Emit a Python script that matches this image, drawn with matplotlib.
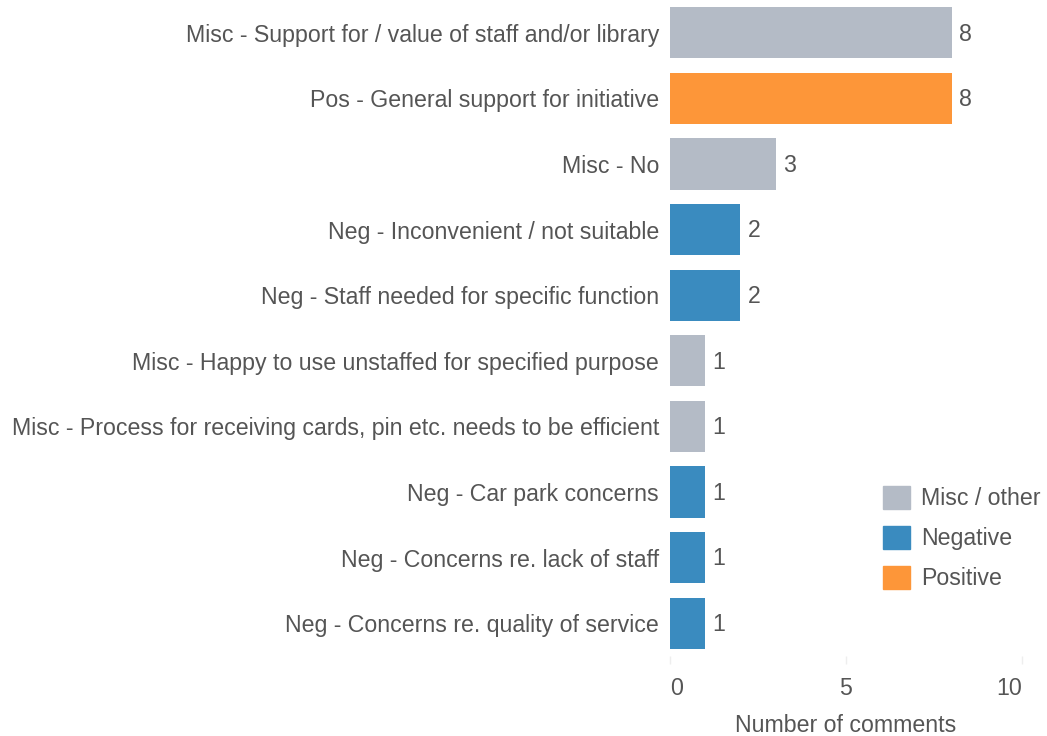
import matplotlib.pyplot as plt
import matplotlib.patches as mpatches

plt.rcParams['font.family'] = ['Liberation Sans', 'DejaVu Sans']

categories = [
    "Misc - Support for / value of staff and/or library",
    "Pos - General support for initiative",
    "Misc - No",
    "Neg - Inconvenient / not suitable",
    "Neg - Staff needed for specific function",
    "Misc - Happy to use unstaffed for specified purpose",
    "Misc - Process for receiving cards, pin etc. needs to be efficient",
    "Neg - Car park concerns",
    "Neg - Concerns re. lack of staff",
    "Neg - Concerns re. quality of service",
]
counts = [8, 8, 3, 2, 2, 1, 1, 1, 1, 1]
groups = ["Misc", "Pos", "Misc", "Neg", "Neg", "Misc", "Misc", "Neg", "Neg", "Neg"]

group_colors = {"Misc": "#b4bbc6", "Neg": "#3a8bbf", "Pos": "#fd9639"}
legend_labels = [("Misc", "Misc / other"), ("Neg", "Negative"), ("Pos", "Positive")]
x_ticks = [0, 5, 10]

TEXT = '#555555'
FS = 16.7

fig = plt.figure(figsize=(10.47, 7.36), dpi=100)
ax = fig.add_axes([670 / 1047, 1 - 656 / 736, 352 / 1047, 656 / 736])

y = list(range(len(categories)))
ax.barh(y, counts, height=0.78, color=[group_colors[g] for g in groups])

for yi, v in zip(y, counts):
    ax.text(v + 0.2, yi + 0.02, str(v), va='center', ha='left', fontsize=FS, color=TEXT)

ax.set_xlim(0, 10)
ax.set_ylim(len(categories) - 0.5, -0.5)
ax.set_yticks(y)
ax.set_yticklabels(categories, fontsize=FS, color=TEXT)
ax.tick_params(axis='y', length=0, pad=8)

ax.set_xticks(x_ticks)
ax.set_xticklabels([str(t) for t in x_ticks], fontsize=FS, color=TEXT)
for lbl, ha in zip(ax.get_xticklabels(), ['left', 'center', 'right']):
    lbl.set_ha(ha)
ax.tick_params(axis='x', length=6, width=1, color='#eeeeee', pad=9)
ax.set_xlabel("Number of comments", fontsize=FS, color=TEXT, labelpad=10)

for s in ax.spines.values():
    s.set_visible(False)

handles = [mpatches.Patch(color=group_colors[k], label=name) for k, name in legend_labels]
fig.legend(handles=handles, loc='upper left', bbox_to_anchor=(878 / 1047, 1 - 481 / 736),
           frameon=False, fontsize=FS, labelcolor=TEXT, handlelength=1.2, handleheight=1.2,
           handletextpad=0.45, labelspacing=0.66, borderaxespad=0, borderpad=0.2)

plt.savefig("out.png", dpi=100, facecolor='white')
